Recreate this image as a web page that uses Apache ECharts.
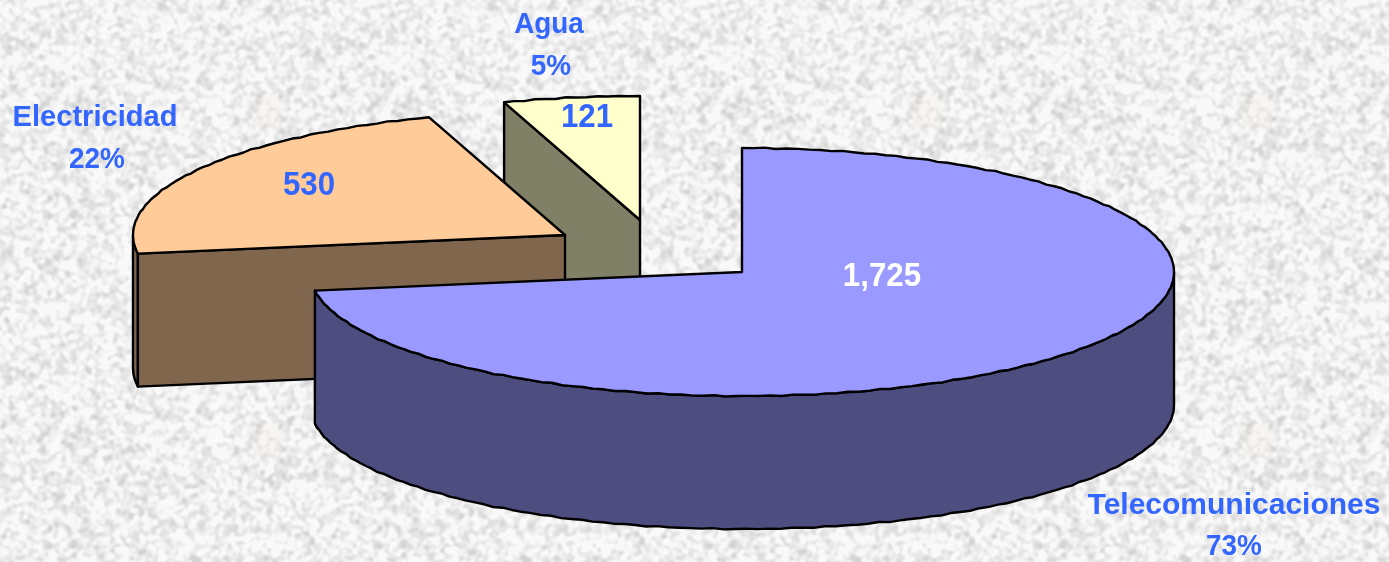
<!DOCTYPE html>
<html><head><meta charset="utf-8">
<style>html,body{margin:0;padding:0;background:#ececec}#c{width:1389px;height:562px}</style>
<script src="https://cdn.jsdelivr.net/npm/echarts@6/dist/echarts.min.js"></script>
</head><body><div id="c"></div>
<script>
// Data
const categories = ['Telecomunicaciones', 'Electricidad', 'Agua'];
const values = [1725, 530, 121];

// Styles and layout
const topColors = ['#9999FF', '#FFCC99', '#FFFFCC'];
const wallColors = ['#4D4D80', '#80664D', '#808066'];
const valueColors = ['#FFFFFF', '#3366FF', '#3366FF'];
const apexes = [[742, 272], [565, 235], [640, 220]];
const valueAnchors = [[882, 277], [309, 186], [587, 118]];
const nameAnchors = [[1234, 506], [95, 118], [549, 25]];
const percentAnchors = [[1234, 547], [97, 160], [551, 67]];
const nameStretch = [1, 0.97, 0.93];
const layers = [30, 20, 10];
const RX = 432, RY = 124, DEPTH = 133;

const total = values.reduce((a, b) => a + b, 0);
const rad = d => d * Math.PI / 180;

// Stone-like paper texture tile, deterministic
function makeTexture() {
  const S = 330, cv = document.createElement('canvas');
  cv.width = cv.height = S;
  const ctx = cv.getContext('2d');
  let seed = 20240611;
  const rnd = () => (seed = (seed * 1664525 + 1013904223) >>> 0) / 4294967296;
  let f = new Float32Array(S * S);
  for (let i = 0; i < f.length; i++) f[i] = rnd();
  for (let pass = 0; pass < 5; pass++) {
    const g = new Float32Array(S * S);
    for (let y = 0; y < S; y++) for (let x = 0; x < S; x++) {
      let s = 0;
      for (let dy = -1; dy <= 1; dy++) for (let dx = -1; dx <= 1; dx++)
        s += f[((y + dy + S) % S) * S + (x + dx + S) % S];
      g[y * S + x] = s / 9;
    }
    f = g;
  }
  const img = ctx.createImageData(S, S);
  for (let i = 0; i < f.length; i++) {
    let v = 240 + (f[i] - 0.5) * 240;
    v = Math.max(212, Math.min(249, v));
    img.data[i * 4] = img.data[i * 4 + 1] = img.data[i * 4 + 2] = v;
    img.data[i * 4 + 3] = 255;
  }
  ctx.putImageData(img, 0, 0);
  // faint watermark
  ctx.fillStyle = 'rgba(238,224,208,0.14)';
  ctx.fillRect(252, 95, 30, 34);
  return cv;
}

function renderSlice(params, api) {
  const i = params.dataIndex;
  const before = values.slice(0, i).reduce((a, b) => a + b, 0);
  const t0 = before / total * 360, t1 = (before + api.value(0)) / total * 360;
  const [cx, cy] = apexes[i];
  const pt = (t, d) => [cx + RX * Math.sin(rad(t)), cy - RY * Math.cos(rad(t)) + (d || 0)];
  const rough = (t, d) => {
    const p = pt(t, d);
    p[1] += 0.4 * Math.sin(t * 1.7) + 0.25 * Math.sin(t * 3.1 + 1);
    return p;
  };
  const arc = (a, b, d) => {
    const out = [], n = Math.max(2, Math.ceil(Math.abs(b - a) / 1.5));
    for (let k = 0; k <= n; k++) {
      const t = a + (b - a) * k / n;
      out.push(k === 0 || k === n ? pt(t, d) : rough(t, d));
    }
    return out;
  };
  const line = { stroke: '#000', lineWidth: 2.4, lineJoin: 'round' };
  const z = layers[i];
  const kids = [];
  const poly = (points, fill, dz) => kids.push({
    type: 'polygon', z2: z + dz, silent: true,
    shape: { points }, style: Object.assign({ fill }, line)
  });
  const s = Math.max(90, t0), e = Math.min(270, t1);
  if (e > s) poly(arc(s, e, 0).concat(arc(e, s, DEPTH)), wallColors[i], 1);
  const face = t => poly([[cx, cy], pt(t), pt(t, DEPTH), [cx, cy + DEPTH]], wallColors[i], 2);
  if (Math.cos(rad(t0 - 90)) < -1e-6) face(t0);
  if (Math.cos(rad(t1 + 90)) < -1e-6) face(t1);
  poly([[cx, cy]].concat(arc(t0, t1, 0)), topColors[i], 3);
  const txt = (str, pos, fill, size, sx) => kids.push({
    type: 'text', z2: 50, silent: true,
    x: pos[0], y: pos[1], scaleX: sx,
    style: { text: str, x: 0, y: 0, fill, align: 'center', verticalAlign: 'middle',
      font: 'bold ' + size + 'px "Liberation Sans", Arial, sans-serif' }
  });
  txt(api.value(0).toLocaleString('en-US'), valueAnchors[i], valueColors[i], 34, 0.92);
  txt(categories[i], nameAnchors[i], '#3366FF', 30, nameStretch[i]);
  txt(Math.round(api.value(0) / total * 100) + '%', percentAnchors[i], '#3366FF', 30, 0.93);
  return { type: 'group', children: kids };
}

const chart = echarts.init(document.getElementById('c'), null, { renderer: 'canvas' });
chart.setOption({
  animation: false,
  backgroundColor: { image: makeTexture(), repeat: 'repeat' },
  series: [{
    type: 'custom',
    coordinateSystem: 'none',
    renderItem: renderSlice,
    data: values.map((v, i) => ({ name: categories[i], value: [v] }))
  }]
});
</script></body></html>
